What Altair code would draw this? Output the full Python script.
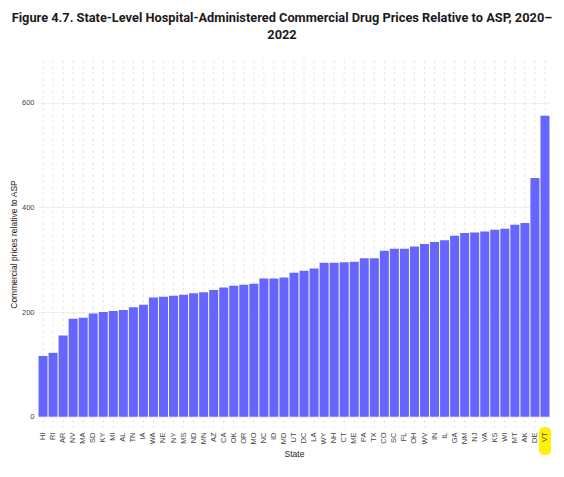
import pandas as pd
import altair as alt

states = ["HI", "RI", "AR", "NV", "MA", "SD", "KY", "MI", "AL", "TN", "IA",
          "WA", "NE", "NY", "MS", "ND", "MN", "AZ", "CA", "OK", "OR", "MO",
          "NC", "ID", "MD", "UT", "DC", "LA", "WY", "NH", "CT", "ME", "PA",
          "TX", "CO", "SC", "FL", "OH", "WV", "IN", "IL", "GA", "NM", "NJ",
          "VA", "KS", "WI", "MT", "AK", "DE", "VT"]
prices = [116, 122, 155, 187, 189, 197, 200, 202, 204, 209, 214,
          228, 229, 231, 233, 236, 238, 242, 247, 250, 252, 254,
          264, 264, 266, 275, 279, 283, 294, 294, 295, 296, 303,
          303, 317, 321, 321, 325, 330, 334, 337, 346, 351, 352,
          354, 357, 359, 367, 370, 456, 575]
highlighted = ["VT"]
y_ticks = [0, 200, 400, 600]

df = pd.DataFrame({"State": states, "Price": prices})
df_hl = pd.DataFrame({"State": highlighted})

label_font = "Liberation Sans"
x_scale = alt.Scale(domain=states, paddingInner=0.1, paddingOuter=0.05)
x_plain = alt.X("State:N", sort=states, scale=x_scale)

# dashed vertical grid, one per state, behind the bars
grid = alt.Chart(df).mark_rule(color="#e0e0e0", strokeDash=[3, 3], strokeWidth=0.8).encode(
    x=x_plain,
    y=alt.value(0),
    y2=alt.value(368)
)

# yellow marker behind the VT label
highlight = alt.Chart(df_hl).mark_bar(color="#fff200", cornerRadius=5, width=12).encode(
    x=x_plain,
    y=alt.value(367),
    y2=alt.value(395)
)

bars = alt.Chart(df).mark_bar(color="#6666ff").encode(
    x=alt.X("State:N", sort=states, scale=x_scale,
            axis=alt.Axis(labelAngle=-90, grid=False, ticks=False, domain=False,
                          labelPadding=4, labelFontSize=7.5, labelColor="#444444",
                          labelFont=label_font, title="State", titleFont=label_font,
                          titleFontSize=8.5, titleFontWeight="normal",
                          titleColor="#222222", titlePadding=5, zindex=1)),
    y=alt.Y("Price:Q",
            scale=alt.Scale(domain=[-21.6, 681.6], nice=False),
            axis=alt.Axis(values=y_ticks, title="Commercial prices relative to ASP",
                          grid=True, gridColor="#efefef", domain=False, ticks=False,
                          labelPadding=4, labelFontSize=7.5, labelColor="#444444",
                          labelFont=label_font, titleFont=label_font,
                          titleFontSize=8.5, titleFontWeight="normal",
                          titleColor="#222222", titlePadding=3, zindex=0)),
    tooltip=["State", "Price"]
)

chart = alt.layer(grid, highlight, bars).properties(
    width=512,
    height=368,
    autosize=alt.AutoSizeParams(type="none"),
    padding={"left": 30, "top": 52, "right": 6, "bottom": 34},
    title=alt.TitleParams(
        ["Figure 4.7. State-Level Hospital-Administered Commercial Drug Prices Relative to ASP, 2020–",
         "2022"],
        font="Roboto", fontSize=12.8, fontWeight="bold", color="#1a1a1a",
        anchor="middle", dx=-12, offset=18, lineHeight=17)
).configure_view(stroke=None)

chart.save("out.html", embed_options={"renderer": "svg", "actions": False})
